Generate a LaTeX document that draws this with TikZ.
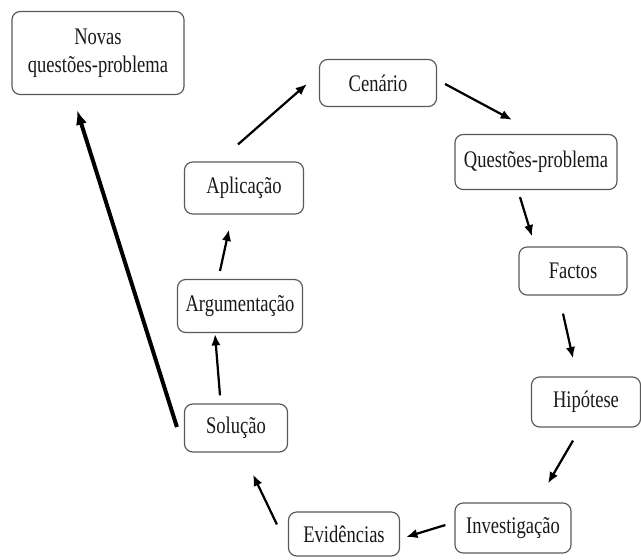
\documentclass[tikz,border=0pt]{standalone}
\usepackage{fontspec}
\setmainfont[FakeStretch=0.78]{Liberation Serif}
\usetikzlibrary{arrows.meta,calc}
\tikzset{
  box/.style={draw=black!65,line width=1pt,rounded corners=7pt,text=black!90,
    font=\fontsize{20.3}{24}\selectfont,align=center,inner sep=0pt},
  arr/.style={line width=1.9pt,-{Latex[length=3.4mm,width=2.8mm]}},
  bigarr/.style={line width=3.4pt,-{Latex[length=4.4mm,width=3.4mm]}}
}
\begin{document}
\begin{tikzpicture}[x=0.03cm,y=-0.03cm]
                \useasboundingbox (0,0) rectangle (641,560);
                \node[box,minimum width=5.16cm,minimum height=2.49cm] (novas) at (98,53) {Novas\\questões-problema};
                \node[box,minimum width=3.51cm,minimum height=1.41cm] (cenario) at (378,83) {Cenário};
                \node[box,minimum width=4.86cm,minimum height=1.65cm] (questoes) at (536,162) {Questões-problema};
                \node[box,minimum width=3.24cm,minimum height=1.44cm] (factos) at (573,271) {Factos};
                \node[box,minimum width=3.27cm,minimum height=1.5cm] (hipotese) at (586,402) {Hipótese};
                \node[box,minimum width=3.48cm,minimum height=1.5cm] (investig) at (513,528) {Investigação};
                \node[box,minimum width=3.33cm,minimum height=1.32cm] (evidencias) at (344,534) {Evidências};
                \node[box,minimum width=3.09cm,minimum height=1.44cm] (solucao) at (236,428) {Solução};
                \node[box,minimum width=3.75cm,minimum height=1.59cm] (argument) at (240,306) {Argumentação};
                \node[box,minimum width=3.57cm,minimum height=1.56cm] (aplicacao) at (244,188) {Aplicação};

                \draw[arr] ($(aplicacao.north)+(-6,-17)$) -- ($(cenario.west)+(-12,1)$);
                \draw[arr] ($(cenario.east)+(8,1)$) -- ($(questoes.north)+(-24,-14)$);
                \draw[arr] ($(questoes.south)+(-16,7)$) -- ($(factos.north)+(-41,-10)$);
                \draw[arr] ($(factos.south)+(-10,18)$) -- ($(hipotese.north)+(-13,-18)$);
                \draw[arr] ($(hipotese.south)+(-13,13)$) -- ($(investig.north)+(35,-19)$);
                \draw[arr] ($(investig.west)+(-9,-3)$) -- ($(evidencias.east)+(6,3)$);
                \draw[arr] ($(evidencias.north west)+(-11,13)$) -- ($(solucao.south)+(17,22)$);
                \draw[arr] ($(solucao.north)+(-16,-8)$) -- ($(argument.south)+(-25,1)$);
                \draw[arr] ($(argument.north)+(-20,-8)$) -- ($(aplicacao.south)+(-15,15)$);
                \draw[bigarr] ($(solucao.west)+(-7,-1)$) -- ($(novas.south)+(-21,15)$);
\end{tikzpicture}
\end{document}
